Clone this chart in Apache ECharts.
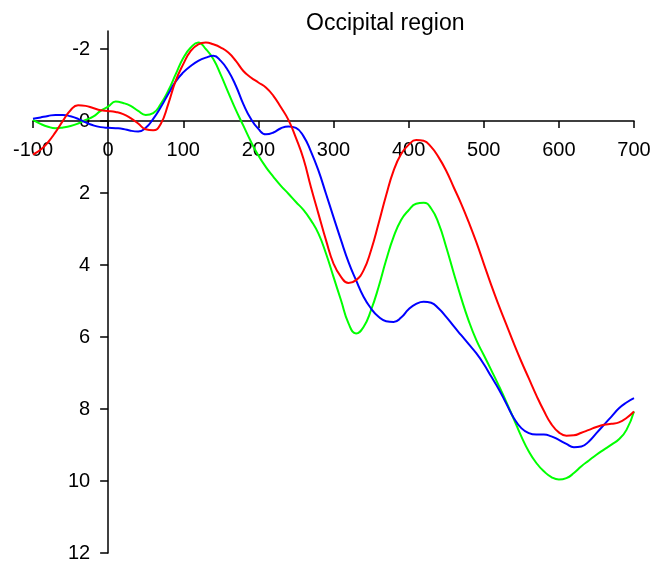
<!DOCTYPE html>
<html>
<head>
<meta charset="utf-8">
<script src="https://cdn.jsdelivr.net/npm/echarts@6/dist/echarts.min.js"></script>
<style>
  html, body { margin: 0; padding: 0; background: #fff; }
  #main { width: 655px; height: 565px; }
</style>
</head>
<body>
<div id="main"></div>
<script>
// 时间点 (ms)，每 10ms 一个
var times = [];
for (var t = -100; t <= 700; t += 10) times.push(t);

// 三条曲线的幅值 (μV)，y 轴向下为正
var redVals = [0.93, 0.80, 0.59, 0.31, -0.01, -0.30, -0.44, -0.42, -0.36, -0.30,
  -0.28, -0.25, -0.19, -0.08, 0.07, 0.23, 0.26, 0.08, -0.47, -1.12,
  -1.58, -1.95, -2.13, -2.18, -2.13, -2.04, -1.90, -1.67, -1.39, -1.21,
  -1.07, -0.93, -0.70, -0.38, -0.03, 0.47, 1.05, 1.84, 2.58, 3.31,
  3.96, 4.33, 4.50, 4.42, 4.15, 3.59, 2.85, 2.07, 1.38, 0.92,
  0.66, 0.53, 0.55, 0.72, 1.01, 1.38, 1.84, 2.30, 2.81, 3.36,
  3.96, 4.56, 5.12, 5.65, 6.18, 6.68, 7.15, 7.62, 8.05, 8.42,
  8.65, 8.74, 8.73, 8.66, 8.58, 8.50, 8.44, 8.41, 8.37, 8.25, 8.07];

var greenVals = [-0.03, 0.08, 0.16, 0.20, 0.18, 0.14, 0.07, -0.03, -0.12, -0.28,
  -0.40, -0.54, -0.50, -0.42, -0.28, -0.17, -0.22, -0.47, -0.84, -1.30,
  -1.75, -2.04, -2.18, -2.00, -1.72, -1.28, -0.79, -0.31, 0.13, 0.57,
  0.96, 1.28, 1.55, 1.80, 2.02, 2.25, 2.47, 2.76, 3.13, 3.68,
  4.33, 4.98, 5.62, 5.90, 5.72, 5.25, 4.61, 3.87, 3.22, 2.75,
  2.48, 2.30, 2.27, 2.43, 2.85, 3.50, 4.22, 4.92, 5.55, 6.08,
  6.50, 6.92, 7.35, 7.80, 8.28, 8.76, 9.18, 9.50, 9.73, 9.89,
  9.96, 9.92, 9.78, 9.59, 9.43, 9.27, 9.13, 8.99, 8.84, 8.58, 8.07];

var blueVals = [-0.06, -0.10, -0.14, -0.17, -0.17, -0.13, -0.06, 0.04, 0.12, 0.17,
  0.19, 0.20, 0.22, 0.27, 0.29, 0.19, -0.06, -0.38, -0.75, -1.10,
  -1.35, -1.53, -1.67, -1.76, -1.81, -1.67, -1.39, -0.98, -0.47, -0.06,
  0.22, 0.37, 0.32, 0.20, 0.15, 0.19, 0.42, 0.85, 1.38, 2.02,
  2.67, 3.31, 3.92, 4.42, 4.88, 5.21, 5.44, 5.56, 5.58, 5.46,
  5.23, 5.08, 5.02, 5.05, 5.21, 5.44, 5.70, 5.95, 6.20, 6.45,
  6.75, 7.10, 7.45, 7.85, 8.25, 8.53, 8.67, 8.71, 8.71, 8.76,
  8.86, 8.97, 9.06, 9.04, 8.90, 8.67, 8.44, 8.21, 7.98, 7.82, 7.70];

// 刻度
var yTicks = [-2, 0, 2, 4, 6, 8, 10, 12];

function pairs(vals) {
  return times.map(function (t, i) { return [t, vals[i]]; });
}

// 坐标系范围和 grid 边距
var xMin = -100, xMax = 700;
var yMin = -2.5, yMax = 12;
var W = 655, H = 565;
var gridLeft = 33, gridRight = 21, gridTop = 31, gridBottom = 12;
var gridW = W - gridLeft - gridRight;
var gridH = H - gridTop - gridBottom;

// 坐标轴画在 0 的位置 (x 轴在 y=0，y 轴在 x=0)
var xAxisOffset = -gridH * (yMax - 0) / (yMax - yMin);
var yAxisOffset = -gridW * (0 - xMin) / (xMax - xMin);

var chart = echarts.init(document.getElementById('main'));

var fontName = 'Liberation Sans, Arial, sans-serif';

var option = {
  animation: false,
  backgroundColor: '#fff',
  title: {
    text: 'Occipital region',
    left: 301,
    top: 7,
    textStyle: { fontFamily: fontName, fontSize: 23, fontWeight: 'normal', color: '#000' }
  },
  grid: {
    left: gridLeft, right: gridRight, top: gridTop, bottom: gridBottom,
    containLabel: false, outerBoundsMode: 'none'
  },
  xAxis: {
    type: 'value',
    position: 'bottom',
    offset: xAxisOffset,
    min: xMin,
    max: xMax,
    interval: 100,
    axisLine: { onZero: false, lineStyle: { color: '#000', width: 1.5 } },
    axisTick: { length: 7, lineStyle: { color: '#000', width: 1.5 } },
    axisLabel: { margin: 19, fontFamily: fontName, fontSize: 20, color: '#000' },
    splitLine: { show: false }
  },
  yAxis: {
    type: 'value',
    position: 'left',
    offset: yAxisOffset,
    inverse: true,
    min: yMin,
    max: yMax,
    axisLine: { show: true, onZero: false, lineStyle: { color: '#000', width: 1.5 } },
    axisTick: { show: true, length: 8, customValues: yTicks, lineStyle: { color: '#000', width: 1.5 } },
    axisLabel: { margin: 18, customValues: yTicks, fontFamily: fontName, fontSize: 20, color: '#000' },
    splitLine: { show: false }
  },
  series: [
    {
      name: 'green', type: 'line', data: pairs(greenVals), smooth: 0.5,
      showSymbol: false, lineStyle: { color: '#00ff00', width: 2 }
    },
    {
      name: 'blue', type: 'line', data: pairs(blueVals), smooth: 0.5,
      showSymbol: false, lineStyle: { color: '#0000ff', width: 2 }
    },
    {
      name: 'red', type: 'line', data: pairs(redVals), smooth: 0.5,
      showSymbol: false, lineStyle: { color: '#ff0000', width: 2 }
    }
  ]
};

chart.setOption(option);
</script>
</body>
</html>
